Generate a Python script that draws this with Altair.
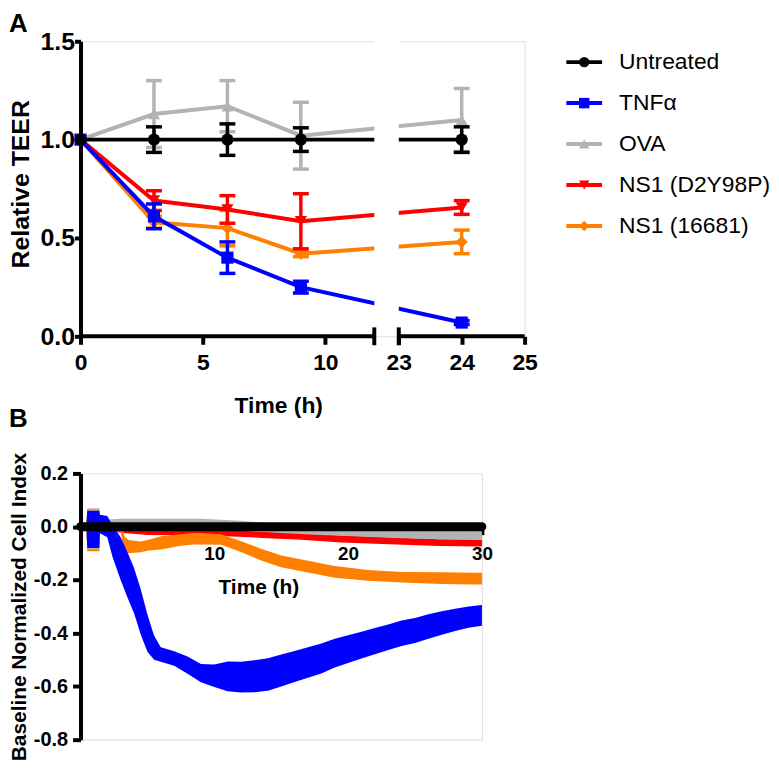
import altair as alt
import pandas as pd

FONT = "Liberation Sans"

# ---------------- shared series definitions ----------------
SERIES = ["Untreated", "TNFα", "OVA", "NS1 (D2Y98P)", "NS1 (16681)"]
COLORS = ["#000000", "#0000FF", "#B3B3B3", "#FF0000", "#FF8000"]
SHAPES = ["circle", "square", "triangle-up", "triangle-down", "diamond"]
PANEL_LABELS = ["A", "B"]

# ---------------- Panel A: relative TEER ----------------
A_TIMES = [0, 3, 6, 9, 24]
A_UNTREATED_MEAN = [1.0, 1.0, 1.0, 1.0, 1.0]
A_UNTREATED_SEM = [0.0, 0.065, 0.08, 0.06, 0.065]
A_TNF_MEAN = [1.0, 0.61, 0.40, 0.25, 0.07]
A_TNF_SEM = [0.0, 0.063, 0.08, 0.03, 0.01]
A_OVA_MEAN = [1.0, 1.13, 1.17, 1.02, 1.10]
A_OVA_SEM = [0.0, 0.17, 0.13, 0.17, 0.16]
A_D2Y_MEAN = [1.0, 0.69, 0.645, 0.585, 0.655]
A_D2Y_SEM = [0.0, 0.05, 0.07, 0.14, 0.035]
A_16681_MEAN = [1.0, 0.58, 0.55, 0.42, 0.48]
A_16681_SEM = [0.0, 0.03, 0.09, 0.015, 0.06]

A_XTICKS = [0, 5, 10, 23, 24, 25]
A_YTICKS = [0.0, 0.5, 1.0, 1.5]
A_BREAK = [12, 23]          # broken x axis: 12 h ... 23 h
A_SEGMENTS_START = [0, 23]
A_SEGMENTS_END = [12, 25]

# ---------------- Panel B: baseline normalized cell index ----------------
B_UNTREATED_T = [0, 5, 10, 15, 20, 25, 30]
B_UNTREATED_MEAN = [0.0, 0.0, 0.0, 0.0, 0.0, 0.0, 0.0]

B_TNF_T = [0, 0.45, 0.5, 1.4, 1.45, 2.0, 2.4, 3.0, 3.5, 4.0, 4.5, 5.0, 5.5, 6.0, 7.0,
           8.0, 9.0, 10.0, 11.0, 12.0, 13.0, 14.0, 15.0, 16.0, 17.0, 18.0, 19.0, 20.0,
           21.0, 22.0, 23.0, 24.0, 25.0, 26.0, 27.0, 28.0, 29.0, 30.0]
B_TNF_MEAN = [0.0, 0.0, -0.01, -0.01, 0.01, 0.0, -0.055, -0.12, -0.18, -0.24, -0.32, -0.40,
              -0.455, -0.48, -0.495, -0.52, -0.55, -0.56, -0.562, -0.565, -0.562, -0.555,
              -0.54, -0.525, -0.51, -0.495, -0.475, -0.46, -0.445, -0.43, -0.415, -0.40,
              -0.39, -0.375, -0.362, -0.35, -0.34, -0.333]
B_TNF_SEM = [0.01, 0.01, 0.07, 0.07, 0.035, 0.04, 0.06, 0.08, 0.085, 0.085, 0.085, 0.07,
             0.045, 0.027, 0.027, 0.032, 0.034, 0.042, 0.056, 0.058, 0.06, 0.061, 0.06,
             0.058, 0.057, 0.056, 0.054, 0.052, 0.05, 0.049, 0.048, 0.048, 0.047, 0.046,
             0.044, 0.042, 0.04, 0.039]

B_OVA_T = [0, 0.45, 0.5, 1.4, 1.45, 3, 6, 9, 12, 15, 18, 21, 24, 27, 30]
B_OVA_MEAN = [0.0, 0.0, -0.01, -0.01, 0.005, 0.01, 0.01, 0.01, 0.004, -0.007, -0.014,
              -0.02, -0.025, -0.029, -0.032]
B_OVA_SEM = [0.01, 0.01, 0.075, 0.075, 0.02, 0.02, 0.02, 0.02, 0.018, 0.017, 0.017,
             0.017, 0.018, 0.018, 0.018]

B_D2Y_T = [0, 0.45, 0.5, 1.4, 1.45, 3, 5, 9, 14, 16.5, 19.5, 22, 26.8, 30]
B_D2Y_MEAN = [0.0, 0.0, -0.01, -0.01, 0.0, -0.012, -0.02, -0.021, -0.031, -0.037, -0.046,
              -0.051, -0.06, -0.061]
B_D2Y_SEM = [0.01, 0.01, 0.07, 0.07, 0.011, 0.011, 0.011, 0.011, 0.012, 0.012, 0.013,
             0.013, 0.013, 0.013]

B_16681_T = [0, 0.45, 0.5, 1.4, 1.45, 3.0, 3.3, 3.6, 4.5, 5.0, 6.1, 7.5, 8.5, 10.5, 12,
             13.5, 15, 17, 19, 21.5, 24, 27, 29.5, 30]
B_16681_MEAN = [0.0, 0.0, -0.012, -0.012, 0.0, -0.005, -0.07, -0.075, -0.076, -0.07,
                -0.06, -0.05, -0.045, -0.048, -0.075, -0.105, -0.13, -0.15, -0.17,
                -0.183, -0.19, -0.193, -0.195, -0.195]
B_16681_SEM = [0.01, 0.01, 0.08, 0.08, 0.015, 0.015, 0.032, 0.025, 0.02, 0.02, 0.025,
               0.022, 0.022, 0.02, 0.02, 0.022, 0.022, 0.022, 0.022, 0.02, 0.02, 0.022,
               0.022, 0.022]

B_XTICKS = [10, 20, 30]
B_YTICKS = [0.2, 0.0, -0.2, -0.4, -0.6, -0.8]

# ---------------- layout constants ----------------
WA, HA = 447, 297
WB, HB = 404, 268
RIGHT_SCALE = 2.57   # display units per hour on the right side of the break
GAP = 1.0


def pos(t):
    return t if t <= A_BREAK[0] else A_BREAK[0] + GAP + (t - A_BREAK[1]) * RIGHT_SCALE


POS_EXPR = (f"datum.t <= {A_BREAK[0]} ? datum.t : "
            f"{A_BREAK[0] + GAP} + (datum.t - {A_BREAK[1]}) * {RIGHT_SCALE}")

# ---------------- Panel A data ----------------
a_means = [A_UNTREATED_MEAN, A_TNF_MEAN, A_OVA_MEAN, A_D2Y_MEAN, A_16681_MEAN]
a_sems = [A_UNTREATED_SEM, A_TNF_SEM, A_OVA_SEM, A_D2Y_SEM, A_16681_SEM]
rows = []
for s, m, e in zip(SERIES, a_means, a_sems):
    for t, mv, ev in zip(A_TIMES, m, e):
        rows.append({"series": s, "t": t, "mean": mv, "err": ev})
dfA = pd.DataFrame(rows)

color = alt.Color("series:N", scale=alt.Scale(domain=SERIES, range=COLORS), legend=None)
shape = alt.Shape("series:N", scale=alt.Scale(domain=SERIES, range=SHAPES), legend=None)

XS_A = alt.Scale(domain=[0, pos(A_XTICKS[-1])], nice=False, zero=False)
YS_A = alt.Scale(domain=[0, 1.5], nice=False)

label_expr_a = (f"datum.value <= {A_BREAK[0]} ? format(datum.value, 'd') : "
                f"format(round({A_BREAK[1]} + (datum.value - {A_BREAK[0] + GAP}) / {RIGHT_SCALE}), 'd')")

XAXIS_A = alt.Axis(values=[pos(v) for v in A_XTICKS], labelExpr=label_expr_a,
                   domain=False, ticks=True, tickSize=8, tickWidth=4, tickColor="black",
                   labelFont=FONT, labelFontSize=23, labelFontWeight="bold", labelColor="black",
                   labelPadding=7, labelFlush=False, labelOverlap=False, grid=False,
                   title="Time (h)", titleFont=FONT, titleFontSize=23, titleFontWeight="bold",
                   titleColor="black", titleX=199, titleY=77, titleBaseline="alphabetic")
YAXIS_A = alt.Axis(values=A_YTICKS, format=".1f", domain=True, domainWidth=4,
                   domainColor="black", ticks=True, tickSize=6, tickWidth=4, tickColor="black",
                   labelFont=FONT, labelFontSize=25, labelFontWeight="bold", labelColor="black",
                   labelPadding=0, labelFlush=False, labelOverlap=False, grid=False,
                   title="Relative TEER", titleFont=FONT, titleFontSize=25,
                   titleFontWeight="bold", titleColor="black", titleX=-52, titleY=HA / 2 - 5,
                   titleBaseline="alphabetic")

baseA = alt.Chart(dfA).transform_calculate(
    pos=POS_EXPR, lo="datum.mean - datum.err", hi="datum.mean + datum.err")

layersA = []
for s in reversed(SERIES):
    b = baseA.transform_filter(alt.datum.series == s)
    xe = alt.X("pos:Q", scale=XS_A, axis=XAXIS_A)
    layersA.append(b.mark_line(strokeWidth=4).encode(
        x=xe, y=alt.Y("mean:Q", scale=YS_A, axis=YAXIS_A), color=color))
    be = b.transform_filter("datum.err > 0")
    layersA.append(be.mark_rule(strokeWidth=3.5).encode(
        x=xe, y=alt.Y("lo:Q", scale=YS_A, axis=YAXIS_A), y2="hi:Q", color=color))
    for f in ["lo", "hi"]:
        layersA.append(be.mark_rule(strokeWidth=3.5, xOffset=-8, x2Offset=8).encode(
            x=xe, x2="pos:Q", y=alt.Y(f"{f}:Q", scale=YS_A, axis=YAXIS_A), color=color))
    layersA.append(b.mark_point(filled=True, size=150, opacity=1).encode(
        x=xe, y=alt.Y("mean:Q", scale=YS_A, axis=YAXIS_A), color=color, shape=shape))

# gap of broken axis
dfGap = pd.DataFrame({"t1": [A_BREAK[0]], "t2": [A_BREAK[1]]})
gap = alt.Chart(dfGap).transform_calculate(
    p1="datum.t1", p2=f"{A_BREAK[0] + GAP}"
).mark_rect(color="white").encode(
    x=alt.X("p1:Q", scale=XS_A, axis=XAXIS_A), x2="p2:Q",
    y=alt.value(-2), y2=alt.value(HA - 3))

# x axis segments and end caps
dfSeg = pd.DataFrame({"t": A_SEGMENTS_START, "tend": A_SEGMENTS_END})
segs = alt.Chart(dfSeg).transform_calculate(
    pos=POS_EXPR,
    pend=(f"datum.tend <= {A_BREAK[0]} ? datum.tend : "
          f"{A_BREAK[0] + GAP} + (datum.tend - {A_BREAK[1]}) * {RIGHT_SCALE}")
).mark_rule(strokeWidth=4, color="black").encode(
    x=alt.X("pos:Q", scale=XS_A, axis=XAXIS_A), x2="pend:Q", y=alt.value(HA))

dfCaps = pd.DataFrame({"t": A_BREAK})
caps = alt.Chart(dfCaps).transform_calculate(pos=POS_EXPR).mark_rule(
    strokeWidth=4, color="black").encode(
    x=alt.X("pos:Q", scale=XS_A, axis=XAXIS_A), y=alt.value(HA - 9), y2=alt.value(HA + 9))

dataA = alt.layer(*layersA, gap, segs, caps)

# legend drawn as marks
dfLeg = pd.DataFrame({"series": SERIES})
leg_y = alt.Y("series:N", scale=alt.Scale(type="point", domain=SERIES, range=[21, 186], padding=0),
              axis=None)
legBase = alt.Chart(dfLeg)
legend = alt.layer(
    legBase.mark_rule(strokeWidth=4).encode(x=alt.value(WA + 42), x2=alt.value(WA + 78),
                                            y=leg_y, color=color),
    legBase.mark_point(filled=True, size=110, opacity=1).encode(
        x=alt.value(WA + 60), y=leg_y, color=color, shape=shape),
    legBase.mark_text(align="left", baseline="middle", font=FONT, fontSize=23,
                      color="black").encode(
        x=alt.value(WA + 95), y=leg_y, text="series:N"),
)

labelA = alt.Chart(pd.DataFrame({"label": [PANEL_LABELS[0]]})).mark_text(
    align="left", baseline="top", font=FONT, fontSize=26, fontWeight="bold", color="black"
).encode(text="label:N", x=alt.value(-72), y=alt.value(-30))

panelA = alt.layer(dataA, legend, labelA).resolve_scale(y="independent").properties(
    width=WA, height=HA)

# ---------------- Panel B ----------------
b_sets = [
    ("NS1 (D2Y98P)", B_D2Y_T, B_D2Y_MEAN, B_D2Y_SEM),
    ("NS1 (16681)", B_16681_T, B_16681_MEAN, B_16681_SEM),
    ("OVA", B_OVA_T, B_OVA_MEAN, B_OVA_SEM),
    ("TNFα", B_TNF_T, B_TNF_MEAN, B_TNF_SEM),
]

XS_B = alt.Scale(domain=[0, 30], nice=False)
YS_B = alt.Scale(domain=[-0.8, 0.2], nice=False)
XAXIS_B = alt.Axis(values=B_XTICKS, format="d", domain=True, domainWidth=4,
                   domainColor="black", ticks=True, tickSize=8, tickWidth=4, tickColor="black",
                   offset=-(HB * 0.8), labelFont=FONT, labelFontSize=19,
                   labelFontWeight="bold", labelColor="black", labelPadding=10,
                   labelFlush=False, labelOverlap=False, grid=False,
                   title="Time (h)", titleFont=FONT, titleFontSize=21, titleFontWeight="bold",
                   titleColor="black", titleX=179, titleY=67, titleBaseline="alphabetic")
YAXIS_B = alt.Axis(values=B_YTICKS,
                   labelExpr="datum.value < 0 ? '-' + format(-datum.value, '.1f') : format(datum.value, '.1f')",
                   domain=True, domainWidth=4, domainColor="black", ticks=True, tickSize=8,
                   tickWidth=4, tickColor="black", labelFont=FONT, labelFontSize=20,
                   labelFontWeight="bold", labelColor="black", labelPadding=5,
                   labelFlush=False, labelOverlap=False, grid=False,
                   title="Baseline Normalized Cell Index", titleFont=FONT, titleFontSize=21,
                   titleFontWeight="bold", titleColor="black", titleX=-55, titleY=HB / 2,
                   titleBaseline="alphabetic")

layersB = []
for s, ts, ms, es in b_sets:
    d = pd.DataFrame({"t": ts, "mean": ms, "err": es, "series": s})
    layersB.append(alt.Chart(d).transform_calculate(
        lo="datum.mean - datum.err", hi="datum.mean + datum.err"
    ).mark_area(opacity=1).encode(
        x=alt.X("t:Q", scale=XS_B, axis=XAXIS_B),
        y=alt.Y("lo:Q", scale=YS_B, axis=YAXIS_B), y2="hi:Q", color=color))

dU = pd.DataFrame({"t": B_UNTREATED_T, "mean": B_UNTREATED_MEAN, "series": "Untreated"})
layersB.append(alt.Chart(dU).mark_line(strokeWidth=9, strokeCap="round").encode(
    x=alt.X("t:Q", scale=XS_B, axis=XAXIS_B),
    y=alt.Y("mean:Q", scale=YS_B, axis=YAXIS_B), color=color))

labelB = alt.Chart(pd.DataFrame({"label": [PANEL_LABELS[1]]})).mark_text(
    align="left", baseline="top", font=FONT, fontSize=26, fontWeight="bold", color="black"
).encode(text="label:N", x=alt.value(-72), y=alt.value(-68))
layersB.append(labelB)

panelB = alt.layer(*layersB).properties(width=WB, height=HB)

chart = alt.vconcat(panelA, panelB, spacing=138, bounds="flush").properties(
    padding=0
).configure_view(stroke=None).configure(font=FONT)

chart.save("out.html", embed_options={"renderer": "svg", "actions": False})
